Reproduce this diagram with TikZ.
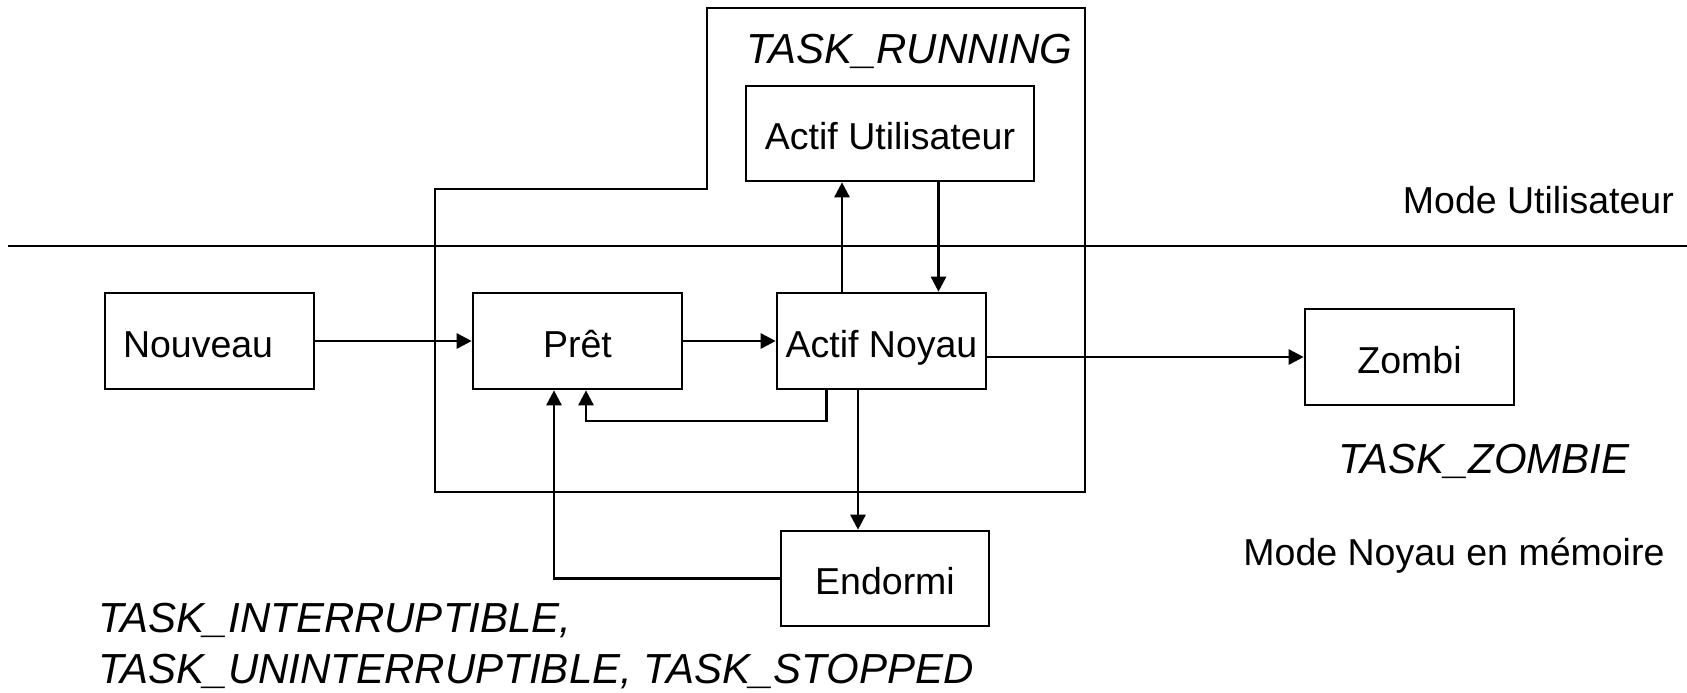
\documentclass[tikz,border=0pt]{standalone}
\usepackage{fontspec}
\setmainfont{Liberation Sans}
\usetikzlibrary{arrows.meta}
\tikzset{
  statebox/.style={draw, line width=1.3pt, rectangle, inner sep=0pt, minimum height=48pt,
    text height=16pt, text depth=0pt, font=\fontsize{18.75pt}{22pt}\selectfont},
  conn/.style={line width=1.3pt},
  arr/.style={line width=1.3pt, -{Triangle[length=7.5pt,width=7.5pt]}},
  tasklabel/.style={anchor=base west, inner sep=0pt, font=\fontsize{21pt}{25pt}\selectfont\itshape},
  modelabel/.style={anchor=base west, inner sep=0pt, font=\fontsize{18.75pt}{22pt}\selectfont}
}
\begin{document}
\begin{tikzpicture}[x=0.5pt, y=-0.5pt]
\useasboundingbox (0,0) rectangle (1687,692);
% region TASK_RUNNING
\draw[conn] (707,8) -- (1085,8) -- (1085,492) -- (435,492) -- (435,189) -- (707,189) -- cycle;
% mode separator
\draw[conn] (8,246) -- (1687,246);
% states
\node[statebox, minimum width=104.5pt, text width=86.5pt, align=left, inner xsep=9pt] (nouv) at (209.5,341) {Nouveau};
\node[statebox, minimum width=104.5pt] (pret) at (577.5,341) {Prêt};
\node[statebox, minimum width=104.5pt] (an) at (881.5,341) {Actif Noyau};
\node[statebox, minimum width=144pt, minimum height=47.5pt] (au) at (890,133.5) {Actif Utilisateur};
\node[statebox, minimum width=104pt, minimum height=47.5pt] (endo) at (885,578.5) {Endormi};
\node[statebox, minimum width=104.5pt] (zomb) at (1409.5,357) {Zombi};
% labels
\node[tasklabel] (trun) at (746,63) {TASK\_RUNNING};
\node[modelabel] (mu) at (1402.5,213) {Mode Utilisateur};
\node[tasklabel] (tzomb) at (1338,473) {TASK\_ZOMBIE};
\node[modelabel] (mn) at (1243,565) {Mode Noyau en mémoire};
\node[tasklabel] (tint1) at (98,632) {TASK\_INTERRUPTIBLE,};
\node[tasklabel] (tint2) at (98,683) {TASK\_UNINTERRUPTIBLE, TASK\_STOPPED};
% helper coordinates
\coordinate (xup) at (842,0);
\coordinate (xdown) at (938.5,0);
\coordinate (xret) at (826.5,0);
\coordinate (xretp) at (586,0);
\coordinate (yret) at (0,421);
\coordinate (xsl) at (858,0);
\coordinate (xwake) at (554,0);
% connectors
\draw[arr] (nouv.east) -- (pret.west);
\draw[arr] (pret.east) -- (an.west);
\draw[arr] (an.north -| xup) -- (au.south -| xup);
\draw[arr] (au.south -| xdown) -- (an.north -| xdown);
\draw[arr] (an.south -| xret) -- (xret |- yret) -- (xretp |- yret) -- (pret.south -| xretp);
\draw[arr] (an.south -| xsl) -- (endo.north -| xsl);
\draw[arr] (endo.west) -- (xwake |- endo.west) -- (pret.south -| xwake);
\draw[arr] (zomb.west -| an.east) -- (zomb.west);
\end{tikzpicture}
\end{document}
